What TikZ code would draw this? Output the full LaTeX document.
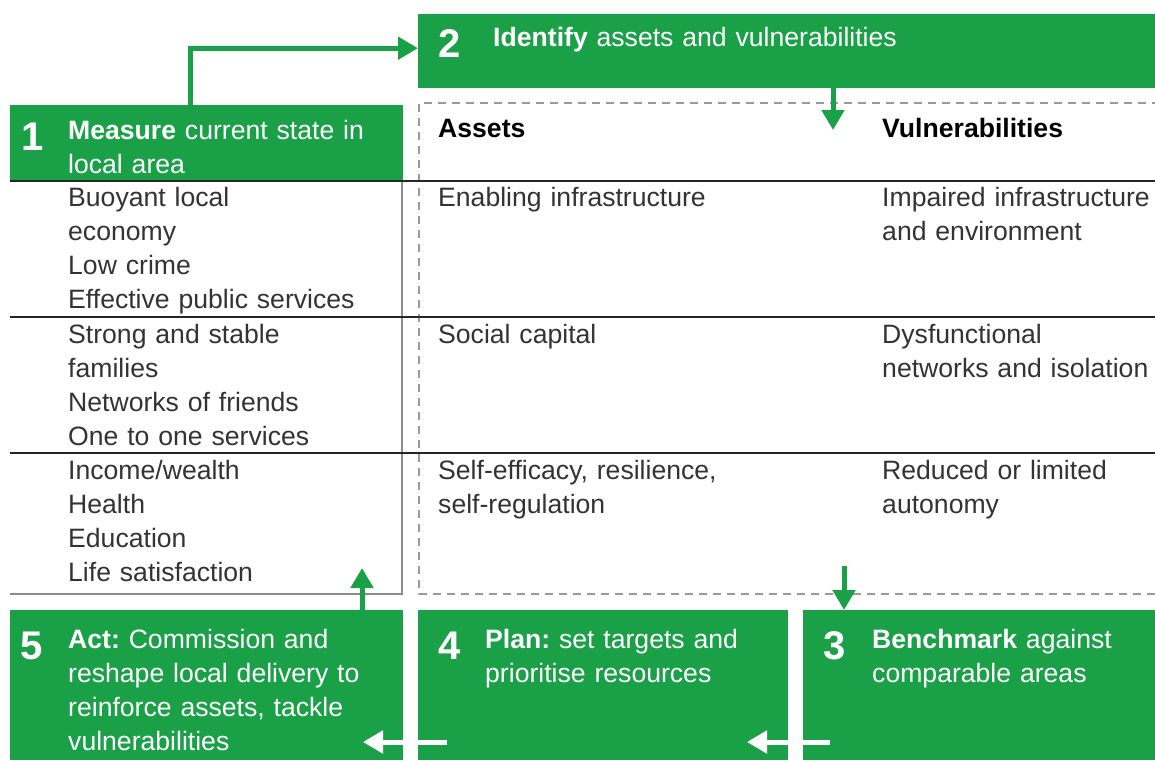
\documentclass[tikz,border=0pt]{standalone}
\usepackage{fontspec}
\setmainfont{Liberation Sans}
\usetikzlibrary{arrows.meta}
\definecolor{stepgreen}{RGB}{26,161,72}
\frenchspacing
\tikzset{
    stepbox/.style={fill=stepgreen,inner sep=0pt,anchor=north west},
    stepnum/.style={font=\fontsize{40}{40}\selectfont\bfseries,text=white,inner sep=0pt,anchor=base west},
    steptext/.style={font=\fontsize{26.6}{34}\selectfont,text=white,inner sep=0pt,anchor=base west,align=left,text width=#1},
    steptext/.default=330pt,
    cell/.style={font=\fontsize{26.6}{34}\selectfont,text=black!80,inner sep=0pt,anchor=base west,align=left,text width=320pt},
    colhead/.style={font=\fontsize{26.6}{34}\selectfont\bfseries,text=black,inner sep=0pt,anchor=base west},
    rowline/.style={black!85,line width=1.6pt},
    colline/.style={black!45,line width=1.2pt},
    dashbox/.style={black!40,line width=1.4pt,dash pattern=on 8pt off 6pt},
    flow/.style={stepgreen,line width=5pt,-{Triangle[length=20pt,width=22pt]}},
    backflow/.style={white,line width=5pt,-{Triangle[length=20pt,width=22pt]}}
}

\begin{document}
\begin{tikzpicture}[x=1pt,y=-1pt]
    \useasboundingbox (0,0) rectangle (1155,760);
    % green step boxes
    \node[stepbox,minimum width=393pt,minimum height=76pt] (measure) at (10,105) {};
    \node[stepbox,minimum width=737pt,minimum height=74pt] (identify) at (418,14) {};
    \node[stepbox,minimum width=352pt,minimum height=150pt] (bench) at (803,610) {};
    \node[stepbox,minimum width=370pt,minimum height=150pt] (plan) at (418,610) {};
    \node[stepbox,minimum width=393pt,minimum height=150pt] (act) at (10,610) {};

    % table rules
    \draw[dashbox] (1160,103) -- (419,103) -- (419,594) -- (1160,594);
    \draw[colline] (402,181) -- (402,594) -- (10,594);
    \foreach \y in {181,317,453}
        \draw[rowline] (10,\y) -- (1160,\y);

    % step texts
    \node[stepnum] (measurenum) at (21,150) {1};
    \node[steptext] (measuretext) at (68,139) {\textbf{Measure} current state in\\local area};
    \node[stepnum] (identifynum) at (438,58) {2};
    \node[steptext=640pt] (identifytext) at (493,47) {\textbf{Identify} assets and vulnerabilities};
    \node[stepnum] (benchnum) at (823,659) {3};
    \node[steptext=280pt] (benchtext) at (872,648) {\textbf{Benchmark} against\\comparable areas};
    \node[stepnum] (plannum) at (438,659) {4};
    \node[steptext=300pt] (plantext) at (485,648) {\textbf{Plan:} set targets and\\prioritise resources};
    \node[stepnum] (actnum) at (20,659) {5};
    \node[steptext] (acttext) at (68,648) {\textbf{Act:} Commission and\\reshape local delivery to\\reinforce assets, tackle\\vulnerabilities};

    % column heads and cells
    \node[colhead] (assets) at (438,137) {Assets};
    \node[colhead] (vulner) at (882,137) {Vulnerabilities};
    \node[cell] (statea) at (68,206) {Buoyant local\\economy\\Low crime\\Effective public services};
    \node[cell] (stateb) at (68,343) {Strong and stable\\families\\Networks of friends\\One to one services};
    \node[cell] (statec) at (68,479) {Income/wealth\\Health\\Education\\Life satisfaction};
    \node[cell] (asseta) at (438,206) {Enabling infrastructure};
    \node[cell] (assetb) at (438,343) {Social capital};
    \node[cell] (assetc) at (438,479) {Self-efficacy, resilience,\\self-regulation};
    \node[cell] (vulnera) at (882,206) {Impaired infrastructure\\and environment};
    \node[cell] (vulnerb) at (882,343) {Dysfunctional\\networks and isolation};
    \node[cell] (vulnerc) at (882,479) {Reduced or limited\\autonomy};

    % arrows
    \coordinate (assettip) at (833,130);
    \coordinate (benchtail) at (844,566);
    \coordinate (statetip) at (362,568);
    \coordinate (plantail) at (447,742);
    \coordinate (acttip) at (363,742);
    \coordinate (benchback) at (830,742);
    \coordinate (plantip) at (747,742);
    \draw[flow] ([xshift=180pt]measure.north west) |- ([yshift=3pt]identify.west);
    \draw[flow] (assettip |- identify.south) -- (assettip);
    \draw[flow] (benchtail) -- (benchtail |- bench.north);
    \draw[flow] (statetip |- act.north) -- (statetip);
    \draw[backflow] (plantail) -- (acttip);
    \draw[backflow] (benchback) -- (plantip);
\end{tikzpicture}
\end{document}
